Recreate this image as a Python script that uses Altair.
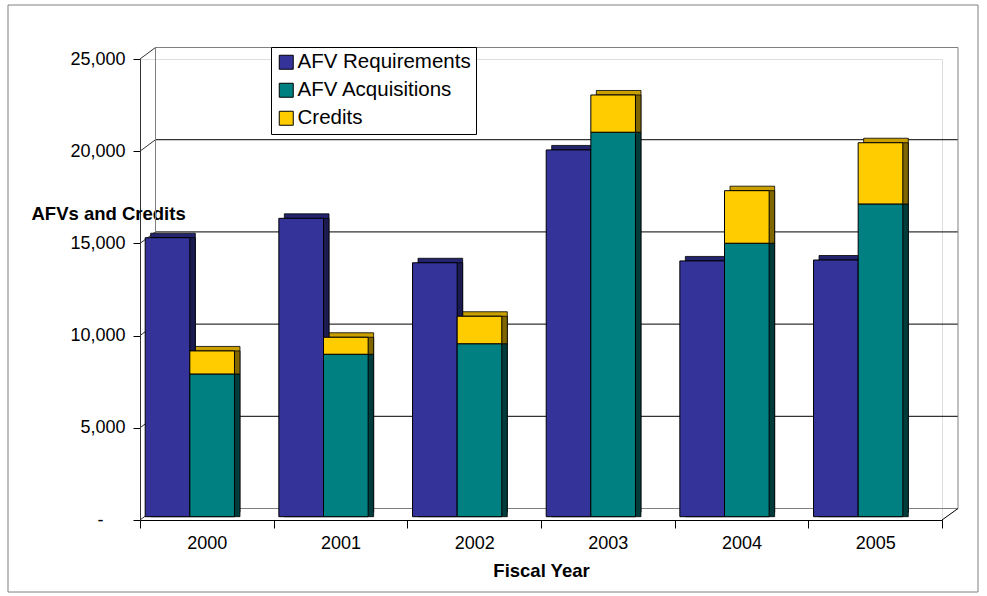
import altair as alt
import pandas as pd

# Alternative-fuel vehicle program, fiscal years 2000-2005
years = ["2000", "2001", "2002", "2003", "2004", "2005"]
requirements = [15130, 16180, 13770, 19890, 13870, 13920]
acquisitions = [7740, 8810, 9380, 20850, 14830, 16960]
credits = [1250, 920, 1490, 2020, 2850, 3320]

series_names = ["AFV Requirements", "AFV Acquisitions", "Credits"]
front_colors = ["#333399", "#008080", "#FFCC00"]
top_colors = ["#24246E", "#005A5A", "#C9A000"]
side_colors = ["#1B1B52", "#003C3C", "#806600"]

tick_values = [0, 5000, 10000, 15000, 20000, 25000]

# ---- geometry of the pseudo-3D plot box --------------------------------
W, H = 802, 461          # front plane of the plot box
Y_MAX = 25000
WALL_DX = 15.5           # horizontal depth of the side wall / floor
WALL_DU = 623            # vertical depth, in value units (~11.5 px)
BAR_LIFT = 3.3           # bars stand slightly behind the front edge
FACE_DX, FACE_DY = 5.5, 4.5   # depth of each bar's top/side faces
BAR_SHIFT = -17          # bar groups sit left of the category centres

FONT = "Liberation Sans"


def yscale(lift=0.0):
    return alt.Scale(domain=[0, Y_MAX], range=[H - lift, -lift], nice=False, zero=True)


def xscale(shift):
    return alt.Scale(domain=years, range=[shift, W + shift],
                     paddingInner=0.332, paddingOuter=0.166)


# ---- data tables --------------------------------------------------------
rows = []
for i, yr in enumerate(years):
    rows.append(dict(year=yr, series=series_names[0], col="a",
                     lo=0, hi=requirements[i], topc=top_colors[0], sidec=side_colors[0]))
    rows.append(dict(year=yr, series=series_names[1], col="b",
                     lo=0, hi=acquisitions[i], topc=top_colors[1], sidec=side_colors[1]))
    rows.append(dict(year=yr, series=series_names[2], col="b",
                     lo=acquisitions[i], hi=acquisitions[i] + credits[i],
                     topc=top_colors[2], sidec=side_colors[2]))
bars = pd.DataFrame(rows)

grid = pd.DataFrame({"v": tick_values})
grid["vb"] = grid["v"] + WALL_DU
grid["gc"] = ["#808080" if v in (0, Y_MAX) else "#000000" for v in tick_values]

edge = pd.DataFrame({"b0": [WALL_DU], "b1": [Y_MAX + WALL_DU], "z": [0]})

# ---- layers -------------------------------------------------------------
axes = alt.Chart(bars).mark_point(opacity=0).encode(
    x=alt.X(
        "year:N",
        scale=alt.Scale(domain=years, paddingInner=0, paddingOuter=0),
        axis=alt.Axis(
            title="Fiscal Year", labelAngle=0, tickBand="extent",
            tickSize=8, tickColor="#000000", domainColor="#000000",
            labelFont=FONT, labelFontSize=18, labelColor="#000000", labelPadding=6,
            titleFont=FONT, titleFontSize=18.5, titleFontWeight="bold",
            titleColor="#000000", titlePadding=9, grid=False,
        ),
    ),
    y=alt.Y(
        "hi:Q",
        scale=yscale(),
        axis=alt.Axis(
            values=tick_values,
            labelExpr="datum.value == 0 ? '-' : format(datum.value, ',d')",
            labelPadding={"condition": {"test": "datum.value == 0", "value": 30}, "value": 8},
            tickSize=7, tickColor="#000000", domainColor="#333333",
            labelFont=FONT, labelFontSize=18, labelColor="#000000",
            title="AFVs and Credits", titleAngle=0, titleAlign="left",
            titleBaseline="middle", titleX=-109, titleY=154,
            titleFont=FONT, titleFontSize=18.5, titleFontWeight="bold",
            titleColor="#000000", grid=False,
        ),
    ),
)

frame = alt.Chart(edge).mark_rect(fillOpacity=0, stroke="#808080", strokeWidth=1).encode(
    x=alt.value(-132), x2=alt.value(838), y=alt.value(-54), y2=alt.value(533)
)

back_grid = alt.Chart(grid).mark_rule(strokeWidth=1).encode(
    x=alt.value(WALL_DX), x2=alt.value(W + WALL_DX + 0.5),
    y=alt.Y("vb:Q", scale=yscale(), axis=None),
    stroke=alt.Stroke("gc:N", scale=None),
)

side_grid = alt.Chart(grid).mark_rule(strokeWidth=1, color="#333333").encode(
    x=alt.value(0), x2=alt.value(WALL_DX),
    y=alt.Y("v:Q", scale=yscale(), axis=None), y2="vb:Q",
)

left_edge = alt.Chart(edge).mark_rule(strokeWidth=1, color="#808080").encode(
    x=alt.value(WALL_DX), y=alt.Y("b0:Q", scale=yscale(), axis=None), y2="b1:Q"
)

right_edge = alt.Chart(edge).mark_rule(strokeWidth=1, color="#808080").encode(
    x=alt.value(W + WALL_DX + 0.5), y=alt.Y("b0:Q", scale=yscale(), axis=None), y2="b1:Q"
)

floor_edge = alt.Chart(edge).mark_rule(strokeWidth=1, color="#000000").encode(
    x=alt.value(W), x2=alt.value(W + WALL_DX + 0.5),
    y=alt.Y("z:Q", scale=yscale(), axis=None), y2="b0:Q",
)

xoff = alt.XOffset("col:N", scale=alt.Scale(domain=["a", "b"], paddingInner=0, paddingOuter=0))

top_faces = alt.Chart(bars).mark_bar(stroke="#000000", strokeWidth=0.8).encode(
    x=alt.X("year:N", scale=xscale(BAR_SHIFT + FACE_DX), axis=None),
    xOffset=xoff,
    y=alt.Y("hi:Q", scale=yscale(BAR_LIFT + FACE_DY), axis=None),
    y2="lo:Q",
    fill=alt.Fill("topc:N", scale=None),
)

side_faces = alt.Chart(bars).mark_bar(stroke="#000000", strokeWidth=0.8).encode(
    x=alt.X("year:N", scale=xscale(BAR_SHIFT + FACE_DX), axis=None),
    xOffset=xoff,
    y=alt.Y("hi:Q", scale=yscale(BAR_LIFT), axis=None),
    y2="lo:Q",
    fill=alt.Fill("sidec:N", scale=None),
)

front_faces = alt.Chart(bars).mark_bar(stroke="#000000", strokeWidth=1).encode(
    x=alt.X("year:N", scale=xscale(BAR_SHIFT), axis=None),
    xOffset=xoff,
    y=alt.Y("hi:Q", scale=yscale(BAR_LIFT), axis=None),
    y2="lo:Q",
    color=alt.Color(
        "series:N",
        scale=alt.Scale(domain=series_names, range=front_colors),
        legend=alt.Legend(
            title=None, orient="none", legendX=131, legendY=-12,
            direction="vertical",
            symbolType="square", symbolSize=196,
            symbolStrokeColor="#000000", symbolStrokeWidth=1,
            labelFont=FONT, labelFontSize=20.5, labelColor="#000000",
            labelOffset=1, labelLimit=400,
            rowPadding=7, padding=5,
            strokeColor="#000000", fillColor="#ffffff",
        ),
    ),
)

chart = (
    alt.layer(axes, frame, back_grid, side_grid, left_edge, right_edge, floor_edge,
              top_faces, side_faces, front_faces)
    .resolve_scale(x="independent", y="independent", xOffset="independent")
    .properties(
        width=W, height=H,
        autosize=alt.AutoSizeParams(type="none"),
        padding={"left": 140, "top": 59, "right": 987 - 140 - W, "bottom": 596 - 59 - H},
        background="white",
    )
    .configure_view(stroke=None)
    .configure(font=FONT)
)

chart.save("out.html", embed_options={"renderer": "svg", "actions": False})
